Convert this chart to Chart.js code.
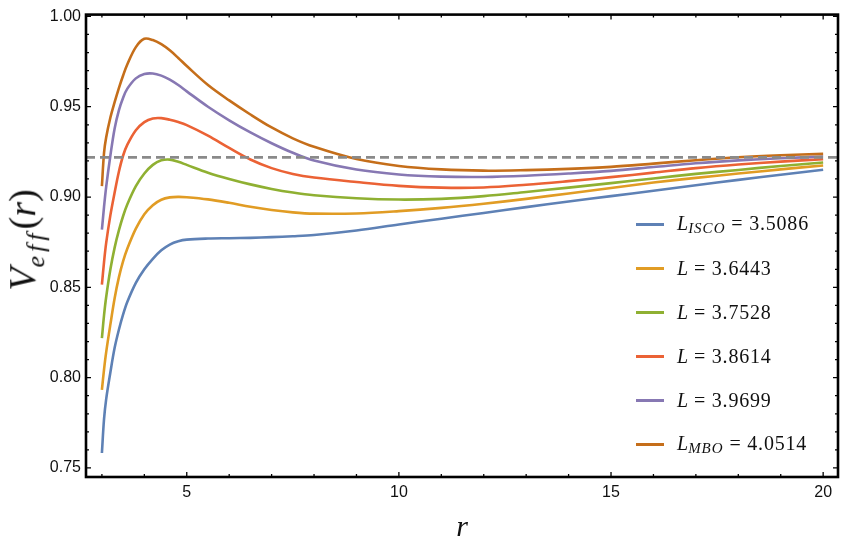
<!DOCTYPE html>
<html>
<head>
<meta charset="utf-8">
<script src="https://cdn.jsdelivr.net/npm/chart.js@4.4.1/dist/chart.umd.min.js"></script>
<style>
  html, body { margin: 0; padding: 0; background: #fff; }
  #wrap { position: relative; width: 845px; height: 550px; background: #fff; overflow: hidden; }
  #c { position: absolute; left: 0; top: 0; }
  .ttl { position: absolute; font-family: 'Liberation Serif', 'DejaVu Serif', serif; color: #111; white-space: nowrap; line-height: 1; }
  .it { font-style: italic; }
  .up { font-style: normal; }
  .row { position: absolute; left: 636px; height: 22px; display: flex; align-items: center; font-family: 'Liberation Serif', 'DejaVu Serif', serif; font-size: 20px; color: #111; white-space: nowrap; }
  .swatch { width: 28px; height: 3px; margin-right: 13px; }
  .row sub { font-size: 15px; vertical-align: -3px; font-style: italic; letter-spacing: 1px; }
  .val { letter-spacing: 0.8px; }
</style>
</head>
<body>
<div id="wrap">
  <canvas id="c" width="845" height="550"></canvas>
  <div id="ytitle" class="ttl" style="left:26px; top:240px; font-size:38px; transform: translate(-50%,-50%) rotate(-90deg);">
    <span class="it">V</span><sub class="it" style="font-size:26px; letter-spacing:4px;">eff</sub><span class="up">(</span><span class="it">r</span><span class="up">)</span>
  </div>
  <div id="xtitle" class="ttl it" style="left:462px; top:526px; font-size:30px; transform: translate(-50%,-50%);">r</div>
  <div id="legend"></div>
</div>
<script>
// ---- data ----
const rValues = [3, 3.05, 3.1, 3.2, 3.3, 3.4, 3.5, 3.6, 3.8, 4, 4.2, 4.4, 4.6, 4.8, 5, 5.5, 6, 6.5, 7, 7.5, 8, 9, 10, 11, 12, 13, 14, 15, 16, 17, 18, 19, 20];

const vISCO  = [0.7583, 0.7770, 0.7880, 0.8030, 0.8165, 0.8265, 0.8350, 0.8420, 0.8525, 0.8600, 0.8658, 0.8705, 0.8737, 0.8755, 0.8764, 0.8770, 0.8772, 0.8774, 0.8778, 0.8783, 0.8790, 0.8815, 0.8848, 0.8880, 0.8912, 0.8944, 0.8975, 0.9005, 0.9035, 0.9065, 0.9095, 0.9123, 0.9151];
const vL3644 = [0.7932, 0.8045, 0.8140, 0.8295, 0.8440, 0.8555, 0.8645, 0.8715, 0.8825, 0.8905, 0.8955, 0.8985, 0.8998, 0.9001, 0.8999, 0.8987, 0.8968, 0.8946, 0.8928, 0.8915, 0.8908, 0.8909, 0.8922, 0.8940, 0.8963, 0.8990, 0.9020, 0.9050, 0.9080, 0.9106, 0.9130, 0.9153, 0.9175];
const vL3753 = [0.8219, 0.8345, 0.8445, 0.8600, 0.8720, 0.8815, 0.8895, 0.8960, 0.9060, 0.9130, 0.9178, 0.9203, 0.9207, 0.9195, 0.9178, 0.9135, 0.9100, 0.9070, 0.9045, 0.9025, 0.9010, 0.8993, 0.8986, 0.8990, 0.9005, 0.9028, 0.9052, 0.9077, 0.9103, 0.9128, 0.9150, 0.9172, 0.9191];
const vL3861 = [0.8515, 0.8640, 0.8745, 0.8900, 0.9025, 0.9140, 0.9230, 0.9290, 0.9370, 0.9415, 0.9435, 0.9437, 0.9428, 0.9415, 0.9398, 0.9340, 0.9272, 0.9208, 0.9160, 0.9128, 0.9108, 0.9083, 0.9062, 0.9052, 0.9053, 0.9068, 0.9088, 0.9110, 0.9135, 0.9160, 0.9180, 0.9196, 0.9209];
const vL3970 = [0.8819, 0.8945, 0.9055, 0.9230, 0.9380, 0.9480, 0.9550, 0.9600, 0.9657, 0.9681, 0.9684, 0.9672, 0.9650, 0.9620, 0.9585, 0.9500, 0.9425, 0.9358, 0.9298, 0.9245, 0.9202, 0.9152, 0.9125, 0.9113, 0.9111, 0.9118, 0.9130, 0.9145, 0.9166, 0.9187, 0.9203, 0.9215, 0.9224];
const vMBO   = [0.9060, 0.9245, 0.9330, 0.9440, 0.9525, 0.9603, 0.9673, 0.9735, 0.9830, 0.9876, 0.9869, 0.9846, 0.9812, 0.9770, 0.9725, 0.9620, 0.9535, 0.9457, 0.9385, 0.9325, 0.9278, 0.9210, 0.9172, 0.9153, 0.9146, 0.9149, 0.9156, 0.9167, 0.9185, 0.9204, 0.9220, 0.9231, 0.9239];

const seriesValues = [vISCO, vL3644, vL3753, vL3861, vL3970, vMBO];
const labelMain  = ['L', 'L', 'L', 'L', 'L', 'L'];
const labelSub   = ['ISCO', '', '', '', '', 'MBO'];
const labelValue = ['3.5086', '3.6443', '3.7528', '3.8614', '3.9699', '4.0514'];
const seriesColors = ['#5E81B5', '#E19C24', '#8FB032', '#EB6235', '#8778B3', '#C56E1A'];

const dashedLevel = 0.922;

const xRange = [2.625, 20.35];
const yRange = [0.745, 1.001];
const xTickValues = [5, 10, 15, 20];
const xTickLabels = ['5', '10', '15', '20'];
const yTickValues = [0.75, 0.80, 0.85, 0.90, 0.95, 1.00];
const yTickLabels = ['0.75', '0.80', '0.85', '0.90', '0.95', '1.00'];
const xMinorTicks = [];
for (let v = 3; v <= 20; v += 1) xMinorTicks.push(v);
const yMinorTicks = [];
for (let k = 75; k <= 100; k += 1) yMinorTicks.push(k / 100);

// ---- build datasets ----
const datasets = seriesValues.map((vals, i) => ({
  label: labelMain[i] + (labelSub[i] ? '_' + labelSub[i] : '') + ' = ' + labelValue[i],
  data: rValues.map((r, j) => ({ x: r, y: vals[j] })),
  borderColor: seriesColors[i],
  borderWidth: 2.6,
  pointRadius: 0,
  showLine: true,
  fill: false,
  tension: 0.35,
  order: seriesValues.length - i
}));
datasets.push({
  label: 'reference level',
  data: [{ x: xRange[0], y: dashedLevel }, { x: xRange[1], y: dashedLevel }],
  borderColor: '#8a8a8a',
  borderWidth: 2.8,
  borderDash: [9, 5],
  pointRadius: 0,
  showLine: true,
  fill: false,
  tension: 0,
  order: -1
});

const framePlugin = {
  id: 'frame',
  afterDatasetsDraw(chart) {
    const { ctx, chartArea: a, scales } = chart;
    const sx = scales.x, sy = scales.y;
    ctx.save();
    ctx.strokeStyle = '#000';
    ctx.lineWidth = 1.3;
    ctx.beginPath();
    xMinorTicks.forEach(v => {
      const px = sx.getPixelForValue(v);
      const len = xTickValues.includes(v) ? 5 : 3;
      ctx.moveTo(px, a.bottom); ctx.lineTo(px, a.bottom - len);
      ctx.moveTo(px, a.top); ctx.lineTo(px, a.top + len);
    });
    yMinorTicks.forEach(v => {
      const py = sy.getPixelForValue(v);
      const major = yTickValues.some(t => Math.abs(t - v) < 1e-9);
      const len = major ? 5 : 3;
      ctx.moveTo(a.left, py); ctx.lineTo(a.left + len, py);
      ctx.moveTo(a.right, py); ctx.lineTo(a.right - len, py);
    });
    ctx.stroke();
    ctx.lineWidth = 2.6;
    ctx.strokeRect(a.left, a.top, a.right - a.left, a.bottom - a.top);
    ctx.restore();
  }
};

const tickFont = { family: "'Liberation Sans', Arial, sans-serif", size: 16 };

new Chart(document.getElementById('c'), {
  type: 'scatter',
  data: { datasets },
  options: {
    responsive: false,
    animation: false,
    devicePixelRatio: 1,
    layout: { padding: { left: 0, right: 7, top: 10, bottom: 0 } },
    plugins: { legend: { display: false }, tooltip: { enabled: false } },
    scales: {
      x: {
        type: 'linear',
        min: xRange[0], max: xRange[1],
        grid: { display: false, drawTicks: false },
        border: { display: false },
        afterBuildTicks: s => { s.ticks = xTickValues.map(v => ({ value: v })); },
        afterFit: s => { s.height = 73; },
        ticks: {
          font: tickFont, color: '#111', padding: 6, maxRotation: 0,
          callback: (v) => { const i = xTickValues.indexOf(v); return i >= 0 ? xTickLabels[i] : ''; }
        }
      },
      y: {
        type: 'linear',
        min: yRange[0], max: yRange[1],
        grid: { display: false, drawTicks: false },
        border: { display: false },
        afterBuildTicks: s => { s.ticks = yTickValues.map(v => ({ value: v })); },
        afterFit: s => { s.width = 86; },
        ticks: {
          font: tickFont, color: '#111', padding: 5,
          callback: (v) => { const i = yTickValues.findIndex(t => Math.abs(t - v) < 1e-9); return i >= 0 ? yTickLabels[i] : ''; }
        }
      }
    }
  },
  plugins: [framePlugin]
});

// ---- HTML legend with subscripts ----
const legend = document.getElementById('legend');
seriesValues.forEach((_, i) => {
  const row = document.createElement('div');
  row.className = 'row';
  row.style.top = (224 + i * 44 - 11) + 'px';
  const sw = document.createElement('span');
  sw.className = 'swatch';
  sw.style.background = seriesColors[i];
  row.appendChild(sw);
  const txt = document.createElement('span');
  const main = document.createElement('i');
  main.textContent = labelMain[i];
  txt.appendChild(main);
  if (labelSub[i]) {
    const sub = document.createElement('sub');
    sub.textContent = labelSub[i];
    txt.appendChild(sub);
  }
  const val = document.createElement('span');
  val.className = 'val';
  val.textContent = ' = ' + labelValue[i];
  txt.appendChild(val);
  row.appendChild(txt);
  legend.appendChild(row);
});
</script>
</body>
</html>
